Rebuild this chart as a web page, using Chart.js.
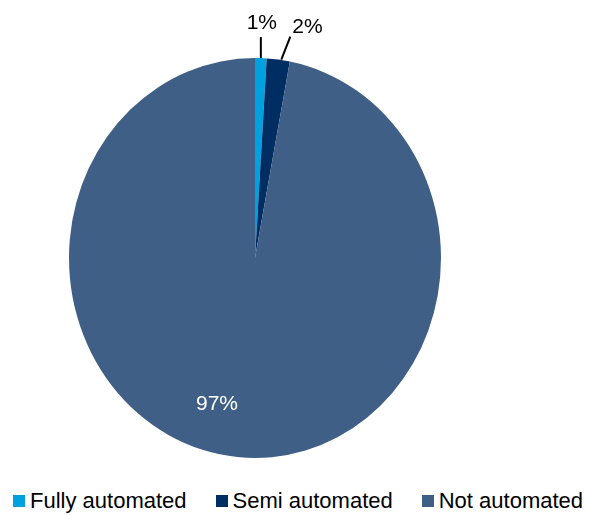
<!DOCTYPE html>
<html>
<head>
<meta charset="utf-8">
<script src="https://cdn.jsdelivr.net/npm/chart.js@4.4.1/dist/chart.umd.min.js"></script>
<style>
  body { margin: 0; background: #fff; font-family: "Liberation Sans", Arial, sans-serif; }
  #wrap { position: relative; width: 589px; height: 516px; }
  #legend { position: absolute; left: 13px; top: 488px; display: flex; align-items: center; font-size: 22px; color: #000; }
  .item { display: flex; align-items: center; margin-right: 29px; white-space: nowrap; }
  .box { width: 12px; height: 12px; margin-right: 5px; }
</style>
</head>
<body>
<div id="wrap">
  <canvas id="grafico" width="589" height="470"></canvas>
  <div id="legend"></div>
</div>
<script>
const categorias = ["Fully automated", "Semi automated", "Not automated"];
const valores = [1, 2, 97];
const rotulos = ["1%", "2%", "97%"];
const cores = ["#00a1de", "#002d62", "#3f5f86"];

// =========================
// pie is a bit narrower than tall in the original
// =========================
const ESCALA_X = 0.93;

const achatar = {
    id: "achatar",
    beforeDatasetsDraw(chart) {
        const arc = chart.getDatasetMeta(0).data[0];
        const ctx = chart.ctx;
        ctx.save();
        ctx.translate(arc.x, arc.y);
        ctx.scale(ESCALA_X, 1);
        ctx.translate(-arc.x, -arc.y);
    },
    afterDatasetsDraw(chart) {
        const ctx = chart.ctx;
        ctx.restore();

        const arcs = chart.getDatasetMeta(0).data;
        ctx.save();
        ctx.font = "21px 'Liberation Sans', Arial, sans-serif";
        ctx.textBaseline = "middle";

        arcs.forEach((arc, i) => {
            const meio = (arc.startAngle + arc.endAngle) / 2;
            const bx = arc.x + Math.cos(meio) * arc.outerRadius * ESCALA_X;
            const by = arc.y + Math.sin(meio) * arc.outerRadius;

            if (i === 0 || i === 1) {
                const linha = i === 0 ? [0, -21] : [9, -23];
                const ex = bx + (i === 0 ? 0 : 3) + linha[0];
                const ey = by + linha[1];
                ctx.strokeStyle = "#000";
                ctx.lineWidth = 2;
                ctx.beginPath();
                ctx.moveTo(bx + (i === 0 ? 0 : 3), by);
                ctx.lineTo(ex, ey);
                ctx.stroke();
                ctx.fillStyle = "#000";
                if (i === 0) {
                    ctx.textAlign = "center";
                    ctx.fillText(rotulos[i], ex + 1, ey - 14);
                } else {
                    ctx.textAlign = "left";
                    ctx.fillText(rotulos[i], ex + 2, ey - 9);
                }
            } else {
                ctx.fillStyle = "#fff";
                ctx.textAlign = "center";
                ctx.fillText(rotulos[i], arc.x - 38, arc.y + 146);
            }
        });
        ctx.restore();
    }
};

new Chart(document.getElementById("grafico"), {
    type: "pie",
    data: {
        labels: categorias,
        datasets: [{
            data: valores,
            backgroundColor: cores,
            borderWidth: 0
        }]
    },
    options: {
        responsive: false,
        animation: false,
        devicePixelRatio: 1,
        layout: { padding: { top: 58, bottom: 12, left: 0, right: 79 } },
        plugins: {
            legend: { display: false },
            tooltip: { enabled: false }
        }
    },
    plugins: [achatar]
});

// legenda
const legenda = document.getElementById("legend");
categorias.forEach((nome, i) => {
    const item = document.createElement("div");
    item.className = "item";
    item.innerHTML = `<span class="box" style="background:${cores[i]}"></span><span>${nome}</span>`;
    legenda.appendChild(item);
});
</script>
</body>
</html>
